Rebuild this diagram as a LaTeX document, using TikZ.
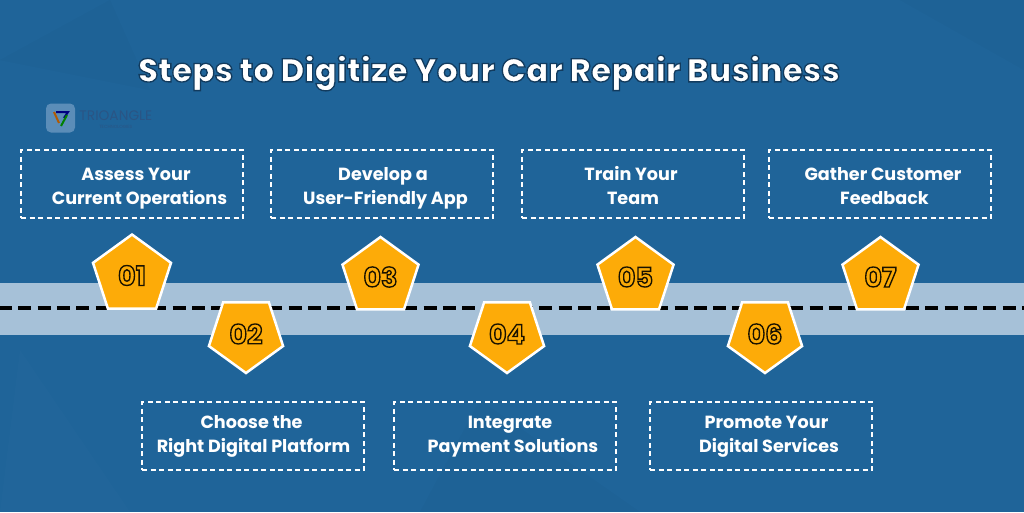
\documentclass[tikz,border=0pt]{standalone}
\usepackage{fontspec}
\setmainfont{Poppins}
\newfontface\stepface{Poppins Bold}[FakeBold=5]
\newfontface\titleface{Poppins ExtraBold}[FakeBold=4]
\usetikzlibrary{positioning, shapes.geometric}
\definecolor{bgblue}{HTML}{1F6499}
\definecolor{bandblue}{HTML}{A6C1D8}
\definecolor{stepfill}{HTML}{FDAB08}
\definecolor{logoblue}{HTML}{5B8DB8}
\definecolor{logotext}{HTML}{2A5585}
% orange digits with a black rim
\newcommand{\stepno}[1]{\special{pdf:bcolor [0.99 0.67 0.03] [0.1 0.07 0]}#1\special{pdf:ecolor}}
% white heading with a dark rim
\newcommand{\headtext}[1]{\special{pdf:bcolor [1 1 1] [0.07 0.23 0.37]}#1\special{pdf:ecolor}}
% two lines of box text, each pushed sideways by its own amount
\newcommand{\boxtext}[4]{\hspace*{#1}\rule{0pt}{\boxrule}#2\\\hspace*{#3}\rule[-6pt]{0pt}{6pt}#4}
\begin{document}
\begin{tikzpicture}[
          x=1pt, y=-1pt,
          node distance=92pt,
          stepup/.style={regular polygon, regular polygon sides=5, draw=white, line width=2.5pt, fill=stepfill, inner sep=0pt, minimum size=80pt, font=\stepface\fontsize{27}{27}\selectfont},
          stepdown/.style={stepup, shape border rotate=180, minimum size=78pt},
          stepbox/.style={rectangle, draw=white, line width=1.2pt, dash pattern=on 5pt off 3.5pt, minimum width=222pt, minimum height=68pt, align=center, text=white, inner sep=0pt, font=\bfseries\fontsize{17.6}{23.5}\selectfont, execute at begin node={\def\boxrule{14.5pt}}},
          stepboxup/.style={stepbox, execute at begin node={\def\boxrule{22.5pt}}},
          title/.style={font=\titleface\fontsize{32.8}{32.8}\selectfont}
        ]
          \useasboundingbox (0,0) rectangle (1024,512);
          \fill[bgblue] (0,0) rectangle (1024,512);

          % Faint shapes in the background
          \fill[black, opacity=0.02] (0,60) -- (110,0) -- (150,90) -- cycle;
          \fill[black, opacity=0.02] (900,0) -- (1024,70) -- (1024,0) -- cycle;
          \fill[black, opacity=0.02] (480,400) -- (640,512) -- (420,512) -- cycle;
          \fill[white, opacity=0.01] (20,350) -- (130,512) -- (0,512) -- cycle;

          % Road
          \fill[bandblue] (0,283) rectangle (1024,335);
          \coordinate (roadL) at (0,308);
          \coordinate (roadR) at (1024,308);
          \draw[black, line width=3.2pt, dash pattern=on 13pt off 6.3pt, dash phase=1pt] (roadL) -- (roadR);

          % Logo
          \node[rectangle, rounded corners=5pt, fill=logoblue, minimum size=29pt, inner sep=0pt] (logo) at (60.5,118) {};
          \draw[orange!70!black, line width=2pt] (54,112) -- (59,123);
          \draw[blue!50!black, line width=2pt] (56,112) -- (68,112) -- (64,118);
          \draw[green!50!black, line width=2pt] (67,115) -- (61,126);
          \node[right=4pt of logo, yshift=2pt, text=logotext, inner sep=0pt, font=\fontsize{13.8}{13.8}\selectfont] (logoname) {TRIOANGLE};
          \node[below=4pt of logoname, text=logotext, inner sep=0pt, font=\fontsize{4.5}{4.5}\selectfont] (logosub) {TECHNOLOGIES};

          % Title
          \node[title] (heading) at (489,73) {\headtext{Steps to Digitize Your Car Repair Business}};

          % Steps above the road
          \node[stepup, minimum size=82pt] (s1) at (132,275.5) {\stepno{01}};
          \node[stepup] (s3) at (380.5,277) {\stepno{03}};
          \node[stepup] (s5) at (635.5,277) {\stepno{05}};
          \node[stepup] (s7) at (880.5,277) {\stepno{07}};

          % Steps below the road
          \node[stepdown] (s2) at (246,334) {\stepno{02}};
          \node[stepdown] (s4) at (507,334) {\stepno{04}};
          \node[stepdown] (s6) at (765,334) {\stepno{06}};

          % Upper boxes
          \node[stepboxup, above of=s1, yshift=-0.5pt] (box1) {\boxtext{8pt}{Assess Your}{15pt}{Current Operations}};
          \node[stepboxup, above of=s3, yshift=1pt, xshift=1.5pt] (box3) {\boxtext{2pt}{Develop a}{7pt}{User-Friendly App}};
          \node[stepboxup, above of=s5, yshift=1pt, xshift=-2.5pt] (box5) {\boxtext{-4pt}{Train Your}{0pt}{Team}};
          \node[stepboxup, above of=s7, yshift=1pt, xshift=-0.5pt] (box7) {\boxtext{6pt}{Gather Customer}{9pt}{Feedback}};

          % Lower boxes
          \node[stepbox, below of=s2, node distance=102pt, xshift=7pt] (box2) {\boxtext{-3pt}{Choose the}{1pt}{Right Digital Platform}};
          \node[stepbox, below of=s4, node distance=102pt, xshift=-2pt] (box4) {\boxtext{10pt}{Integrate}{16pt}{Payment Solutions}};
          \node[stepbox, below of=s6, node distance=102pt, xshift=-4pt] (box6) {\boxtext{11pt}{Promote Your}{16pt}{Digital Services}};
      \end{tikzpicture}
\end{document}
